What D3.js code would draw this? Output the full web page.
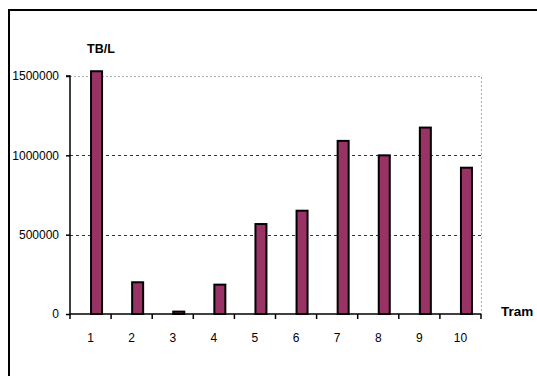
<!DOCTYPE html>
<html><head><meta charset="utf-8">
<script src="https://cdn.jsdelivr.net/npm/d3@7"></script>
<style>body{margin:0;background:#fff}svg{display:block}text{font-family:"Liberation Sans",Arial,sans-serif}</style>
</head><body><svg id="c" width="537" height="376"></svg>
<script>
const categories = ["1","2","3","4","5","6","7","8","9","10"];
const values = [1530000, 200000, 15000, 185000, 567000, 651000, 1091000, 1000000, 1175000, 922000];
const yTicks = [0, 500000, 1000000, 1500000];
const yTitle = "TB/L";
const xTitle = "Tram";

const svg = d3.select("#c");
const L = 70, R = 481, T = 76, B = 314;

// outer frame
svg.append("rect").attr("x", 9).attr("y", 10).attr("width", 560).attr("height", 400)
  .attr("fill", "none").attr("stroke", "#000").attr("stroke-width", 2);

const x = d3.scaleBand().domain(categories).range([L, R]);
const y = d3.scaleLinear().domain([0, 1500000]).range([B, T]);

// plot-area border (light dotted)
svg.append("path").attr("d", `M${L},${T + 0.5}H${R + 0.5}V${B}`).attr("fill", "none")
  .attr("stroke", "#aaa").attr("stroke-width", 1).attr("stroke-dasharray", "2,2");

// gridlines
svg.append("g").selectAll("line").data(yTicks.filter(d => d > 0 && d < 1500000)).join("line")
  .attr("x1", L).attr("x2", R).attr("y1", d => Math.round(y(d)) + 0.5).attr("y2", d => Math.round(y(d)) + 0.5)
  .attr("stroke", "#333").attr("stroke-dasharray", "3,3");

// bars
const bw = 11;
svg.append("g").selectAll("rect").data(values).join("rect")
  .attr("x", (d, i) => x(categories[i]) + x.bandwidth() / 2 + 0.5)
  .attr("y", d => y(d))
  .attr("width", bw)
  .attr("height", d => B - y(d))
  .attr("fill", "#993366").attr("stroke", "#000").attr("stroke-width", 2);

// y axis
const ya = d3.axisLeft(y).tickValues(yTicks).tickSize(4).tickPadding(7).tickFormat(d3.format("d"));
const gy = svg.append("g").attr("transform", `translate(${L},0)`).call(ya);
gy.select(".domain").attr("stroke", "#000").attr("stroke-width", 1.5).attr("d", `M-4,${T}H0V${B}`);
gy.selectAll(".tick line").attr("stroke-width", 1.5);
gy.selectAll("text").attr("font-size", 12).attr("fill", "#000").attr("font-family", '"Liberation Sans",Arial,sans-serif');

// x axis
const xa = d3.axisBottom(x).tickSize(0).tickPadding(19);
const gx = svg.append("g").attr("transform", `translate(0,${B})`).call(xa);
gx.select(".domain").attr("stroke", "#000").attr("stroke-width", 1.5).attr("d", `M${L},0H${R}`);
gx.selectAll("text").attr("font-size", 12).attr("fill", "#000").attr("font-family", '"Liberation Sans",Arial,sans-serif');
const bounds = categories.map((c, i) => x(c)).concat([R]);
svg.append("g").selectAll("line").data(bounds).join("line")
  .attr("x1", d => d).attr("x2", d => d).attr("y1", B).attr("y2", B + 5)
  .attr("stroke", "#000").attr("stroke-width", 1.5);

// titles
svg.append("text").attr("x", 87).attr("y", 53).attr("font-size", 12.5).attr("font-weight", "bold").text(yTitle);
svg.append("text").attr("x", 501).attr("y", 316).attr("font-size", 13.5).attr("font-weight", "bold").text(xTitle);
</script></body></html>
